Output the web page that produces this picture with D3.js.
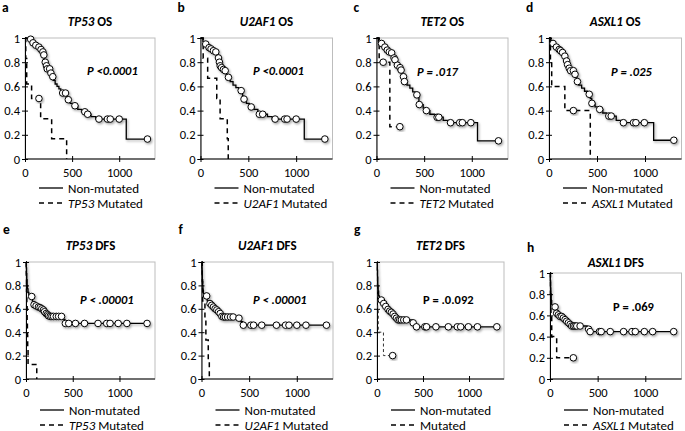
<!DOCTYPE html>
<html><head><meta charset="utf-8">
<script src="https://cdn.jsdelivr.net/npm/d3@7"></script>
<style>body{margin:0;background:#fff;} svg{display:block;font-family:Carlito,Lato,sans-serif;}</style>
</head><body><svg id="chart" width="685" height="431"></svg>
<script>
// ---------- data ----------
const panelLetters = ["a","b","c","d","e","f","g","h"];
const genes = ["TP53","U2AF1","TET2","ASXL1","TP53","U2AF1","TET2","ASXL1"];
const endpoints = ["OS","OS","OS","OS","DFS","DFS","DFS","DFS"];
const pValues = ["P <0.0001","P <0.0001","P = .017","P = .025","P < .00001","P < .00001","P = .0.092","P = .069"];
const legendGenes = ["TP53","U2AF1","TET2","ASXL1","TP53","U2AF1","","ASXL1"];
const xTicks = [0, 500, 1000];
const yTicks = [0, 0.2, 0.4, 0.6, 0.8, 1];
const xMax = 1380;

// Non-mutated curves: [day, survival] steps; censor days
const aNonSteps = [[0,1],[30,0.99],[70,0.96],[100,0.94],[130,0.925],[155,0.905],[175,0.885],[195,0.86],[205,0.82],[210,0.8],[222,0.77],[233,0.745],[268,0.71],[280,0.68],[300,0.65],[320,0.62],[340,0.6],[360,0.58],[380,0.56],[395,0.545],[440,0.51],[450,0.49],[480,0.46],[505,0.44],[560,0.41],[600,0.39],[650,0.37],[700,0.35],[750,0.33],[1075,0.165],[1300,0.165]];
const aNonCensor = [60,85,115,148,170,190,200,215,228,236,262,275,295,400,430,460,530,635,665,785,875,905,1000,1300];
const aMutSteps = [[0,1],[8,0.83],[18,0.62],[70,0.5],[166,0.333],[283,0.167],[442,0]];
const aMutCensor = [148];

const bNonSteps = [[0,1],[25,0.97],[50,0.95],[75,0.92],[100,0.91],[125,0.895],[150,0.885],[175,0.86],[185,0.835],[195,0.8],[203,0.77],[215,0.755],[230,0.74],[250,0.73],[270,0.7],[285,0.675],[310,0.64],[340,0.61],[370,0.59],[400,0.565],[440,0.52],[450,0.495],[480,0.46],[510,0.43],[560,0.41],[600,0.37],[700,0.35],[750,0.33],[1085,0.165],[1300,0.165]];
const bNonCensor = [55,90,110,135,160,188,198,206,220,240,258,292,425,455,530,615,650,780,880,905,1000,1300];
const bMutSteps = [[0,1],[28,0.833],[75,0.667],[170,0.5],[205,0.333],[280,0.167],[290,0]];
const bMutCensor = [];

const cNonSteps = [[0,1],[20,0.97],[45,0.955],[70,0.925],[100,0.9],[125,0.885],[150,0.877],[170,0.85],[180,0.835],[190,0.82],[200,0.8],[210,0.775],[230,0.755],[250,0.735],[270,0.7],[280,0.68],[292,0.64],[320,0.61],[350,0.585],[380,0.555],[410,0.53],[445,0.45],[490,0.42],[510,0.4],[560,0.37],[610,0.345],[700,0.32],[750,0.3],[1060,0.15],[1280,0.15]];
const cNonCensor = [53,88,113,134,159,184,194,219,247,258,283,293,424,449,523,636,654,777,873,901,990,1280];
const cMutSteps = [[0,1],[28,0.8],[140,0.267],[245,0.267]];
const cMutCensor = [70,245];

const dNonSteps = [[0,1],[20,0.97],[35,0.955],[60,0.925],[90,0.905],[115,0.895],[130,0.88],[155,0.85],[170,0.835],[178,0.81],[188,0.78],[205,0.75],[218,0.73],[262,0.7],[275,0.68],[290,0.64],[310,0.61],[340,0.585],[370,0.56],[400,0.535],[430,0.5],[445,0.46],[480,0.43],[510,0.41],[560,0.38],[600,0.355],[700,0.32],[750,0.3],[1090,0.155],[1300,0.155]];
const dNonCensor = [42,77,106,120,141,165,183,194,211,225,254,271,296,419,447,528,623,648,775,880,905,993,1300];
const dMutSteps = [[0,1],[15,0.8],[28,0.6],[165,0.4],[430,0]];
const dMutCensor = [254];

const eNonSteps = [[0,1],[3,0.95],[6,0.9],[9,0.85],[12,0.8],[16,0.77],[22,0.74],[30,0.72],[50,0.705],[70,0.66],[80,0.635],[100,0.625],[125,0.615],[145,0.61],[160,0.6],[180,0.59],[195,0.575],[210,0.56],[225,0.55],[238,0.54],[250,0.535],[395,0.51],[415,0.475],[1295,0.475]];
const eNonCensor = [61,86,108,133,151,169,187,198,216,230,241,259,277,295,324,349,380,421,457,529,626,770,863,899,986,1079,1295];
const eMutSteps = [[0,1],[3,0.875],[6,0.75],[9,0.625],[12,0.5],[15,0.375],[18,0.25],[22,0.125],[115,0]];
const eMutCensor = [];

const fNonSteps = [[0,1],[3,0.95],[6,0.9],[9,0.85],[12,0.8],[15,0.76],[20,0.73],[30,0.71],[60,0.67],[80,0.645],[100,0.63],[115,0.615],[135,0.6],[150,0.59],[170,0.575],[185,0.56],[200,0.545],[210,0.535],[225,0.53],[360,0.52],[410,0.49],[430,0.46],[1311,0.46]];
const fNonCensor = [54,89,107,125,143,161,179,196,214,232,250,275,304,332,393,439,518,546,632,786,882,918,1000,1096,1311];
const fMutSteps = [[0,1],[8,0.833],[12,0.667],[36,0.5],[46,0.333],[71,0.167],[82,0]];
const fMutCensor = [];

const gNonSteps = [[0,1],[3,0.93],[6,0.87],[9,0.8],[13,0.75],[18,0.71],[25,0.69],[40,0.675],[60,0.645],[85,0.62],[105,0.595],[125,0.58],[150,0.57],[165,0.555],[185,0.535],[200,0.52],[220,0.505],[380,0.48],[420,0.446],[1302,0.446]];
const gNonCensor = [47,73,95,120,138,156,175,193,211,229,247,265,291,320,393,429,520,538,640,775,873,909,993,1091,1302];
const gMutSteps = [[0,1],[4,0.8],[8,0.6],[14,0.4],[70,0.2],[170,0.2]];
const gMutCensor = [170];

const hNonSteps = [[0,1],[3,0.93],[6,0.86],[9,0.8],[13,0.74],[18,0.7],[30,0.68],[60,0.62],[80,0.605],[100,0.59],[130,0.575],[150,0.56],[170,0.545],[185,0.53],[205,0.515],[220,0.5],[390,0.47],[418,0.447],[1298,0.447]];
const hNonCensor = [53,70,88,105,123,140,158,175,193,211,228,246,263,281,316,405,421,519,537,632,772,860,895,990,1077,1298];
const hMutSteps = [[0,1],[5,0.8],[10,0.6],[18,0.4],[70,0.2],[245,0.2]];
const hMutCensor = [245];

const nonStepsAll = [aNonSteps,bNonSteps,cNonSteps,dNonSteps,eNonSteps,fNonSteps,gNonSteps,hNonSteps];
const nonCensorAll = [aNonCensor,bNonCensor,cNonCensor,dNonCensor,eNonCensor,fNonCensor,gNonCensor,hNonCensor];
const mutStepsAll = [aMutSteps,bMutSteps,cMutSteps,dMutSteps,eMutSteps,fMutSteps,gMutSteps,hMutSteps];
const mutCensorAll = [aMutCensor,bMutCensor,cMutCensor,dMutCensor,eMutCensor,fMutCensor,gMutCensor,hMutCensor];

// ---------- layout ----------
const layout = [
  {L:25,   R:155,   T:38,  B:159, titleY:26,  letterY:12,  pX:87,  pY:75,  legY:188},
  {L:200.5,R:332.5, T:38,  B:159, titleY:26,  letterY:12,  pX:253, pY:75,  legY:188},
  {L:376.5,R:508,   T:38,  B:159, titleY:26,  letterY:12,  pX:417, pY:76,  legY:188},
  {L:549,  R:681.5, T:38,  B:159, titleY:26,  letterY:12,  pX:611, pY:76,  legY:188},
  {L:26,   R:155,   T:262, B:379, titleY:250, letterY:234, pX:80,  pY:304, legY:410},
  {L:201.5,R:333,   T:262, B:379, titleY:250, letterY:234, pX:253, pY:304, legY:410},
  {L:377,  R:504,   T:262, B:379, titleY:250, letterY:234, pX:423, pY:304, legY:410},
  {L:550,  R:681.5, T:273, B:379, titleY:267, letterY:252, pX:613, pY:311, legY:410}
];

const svg = d3.select("#chart");
const defs = svg.append("defs");
const f = defs.append("filter").attr("id","sh").attr("x","-20%").attr("y","-20%").attr("width","150%").attr("height","150%");
f.append("feDropShadow").attr("dx",1.2).attr("dy",1.5).attr("stdDeviation",1).attr("flood-color","#000").attr("flood-opacity",0.35);

function survAt(steps, t){ let s = 1; for (const [tt,v] of steps) if (tt <= t) s = v; return s; }

panelLetters.forEach((letter, i) => {
  const lay = layout[i];
  const g = svg.append("g");
  const x = d3.scaleLinear().domain([0, xMax]).range([lay.L, lay.R]);
  const y = d3.scaleLinear().domain([0, 1]).range([lay.B, lay.T]);

  g.append("text").attr("x", lay.L - 23).attr("y", lay.letterY).attr("font-size", 13.5).attr("font-weight", "bold").text(letter);
  const t = g.append("text").attr("x", (lay.L + lay.R) / 2).attr("y", lay.titleY).attr("text-anchor","middle")
    .attr("font-size", 13).attr("font-weight","bold");
  t.append("tspan").attr("font-style","italic").text(genes[i]);
  t.append("tspan").text(" " + endpoints[i]);

  g.append("rect").attr("x", lay.L).attr("y", lay.T).attr("width", lay.R - lay.L).attr("height", lay.B - lay.T)
    .attr("fill","none").attr("stroke","#bdbdbd").attr("stroke-width",1);

  const ya = g.append("g").attr("transform", `translate(${lay.L},0)`)
    .call(d3.axisLeft(y).tickValues(yTicks).tickFormat(d => String(+d.toFixed(1))).tickSizeOuter(0).tickSize(3));
  ya.selectAll(".tick line").attr("x1", 3).attr("x2", -3);
  ya.selectAll(".tick text").attr("x", -5).attr("font-size", 12.5).attr("font-family","Carlito,Lato,sans-serif");
  const xa = g.append("g").attr("transform", `translate(0,${lay.B})`)
    .call(d3.axisBottom(x).tickValues(xTicks).tickFormat(d => String(d)).tickSizeOuter(0).tickSize(3));
  xa.selectAll(".tick line").attr("y1", -3).attr("y2", 3);
  xa.selectAll(".tick text").attr("y", 9).attr("font-size", 12.5).attr("font-family","Carlito,Lato,sans-serif");
  xa.select(".domain").attr("d", `M${lay.L},0H${lay.R}`);

  const line = d3.line().x(d => x(d[0])).y(d => y(d[1])).curve(d3.curveStepAfter);

  const thin = i === 6;
  g.append("path").attr("d", line(mutStepsAll[i])).attr("fill","none").attr("stroke", thin ? "#333" : "#000")
    .attr("stroke-width", thin ? 1 : 1.5).attr("stroke-dasharray", thin ? "3,2.5" : "5,4");
  g.selectAll(".mc").data(mutCensorAll[i]).join("circle")
    .attr("cx", d => x(d)).attr("cy", d => y(survAt(mutStepsAll[i], d))).attr("r", 3.3)
    .attr("fill","#fff").attr("stroke","#000").attr("stroke-width",1).attr("filter","url(#sh)");

  const sg = g.append("g").attr("filter","url(#sh)");
  sg.append("path").attr("d", line(nonStepsAll[i])).attr("fill","none").attr("stroke","#000").attr("stroke-width",1.3);
  sg.selectAll("circle").data(nonCensorAll[i]).join("circle")
    .attr("cx", d => x(d)).attr("cy", d => y(survAt(nonStepsAll[i], d))).attr("r", 3.3)
    .attr("fill","#fff").attr("stroke","#000").attr("stroke-width",1);

  g.append("text").attr("x", lay.pX).attr("y", lay.pY).attr("font-size", 12.5).attr("font-weight","bold")
    .attr("font-style", i < 6 ? "italic" : "normal").text(pValues[i]);

  const lx = lay.L + 14;
  g.append("line").attr("x1", lx).attr("x2", lx + 24).attr("y1", lay.legY).attr("y2", lay.legY).attr("stroke","#000").attr("stroke-width",1.3);
  g.append("text").attr("x", lx + 29).attr("y", lay.legY + 4.5).attr("font-size", 13).text("Non-mutated");
  g.append("line").attr("x1", lx).attr("x2", lx + 24).attr("y1", lay.legY + 15).attr("y2", lay.legY + 15).attr("stroke","#000")
    .attr("stroke-width",1.5).attr("stroke-dasharray","5,4");
  const lt = g.append("text").attr("x", lx + 29).attr("y", lay.legY + 19.5).attr("font-size", 13);
  if (legendGenes[i]) { lt.append("tspan").attr("font-style","italic").text(legendGenes[i]); lt.append("tspan").text(" Mutated"); }
  else lt.append("tspan").text("Mutated");
});
</script></body></html>
